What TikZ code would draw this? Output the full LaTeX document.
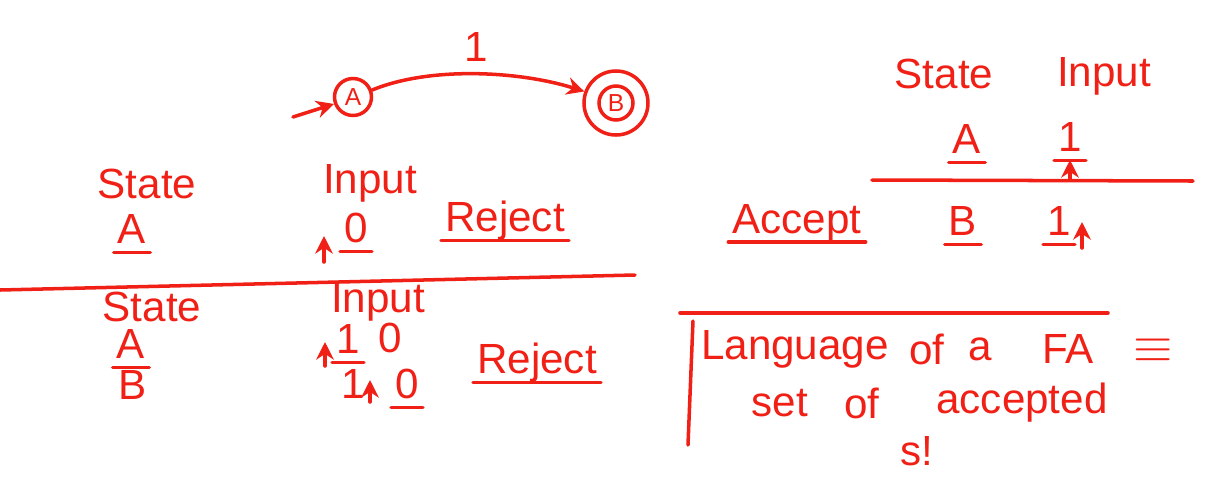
\documentclass[tikz,border=0pt]{standalone}
\usepackage{fontspec}
\setmainfont{Liberation Sans}
\usetikzlibrary{positioning,arrows.meta}
\definecolor{ink}{RGB}{240,32,22}

\begin{document}
\begin{tikzpicture}[x=1cm,y=1cm]
	
	\tikzset{hand/.style={draw=ink, line width=1pt, line cap=round},
		word/.style={text=ink, inner sep=1pt, font=\fontsize{12}{14}\selectfont},
		state node/.style={circle, draw=ink, line width=1pt, text=ink,
			minimum size=0.37cm, inner sep=0pt, font=\fontsize{7}{8}\selectfont},
		pointer/.style={hand, -{Stealth[length=5pt,width=5pt]}}
	}
	\newcommand{\under}[1]{\draw[hand] ([yshift=-2.5pt]#1.base west) -- ([yshift=-2.5pt]#1.base east);}
	\useasboundingbox (0,0) rectangle (12.17,4.81);
	
	% the automaton
	\node[state node] (A) at (3.53,3.84) {A};
	\node[state node, minimum size=0.34cm] (B) at (6.16,3.78) {B};
	\node[circle, draw=ink, line width=1pt, minimum size=0.64cm] (Bo) at (B) {};
	\coordinate (start) at (2.93,3.64);
	\draw[pointer] (start) -- (A.200);
	\draw[pointer] (A.20) .. controls (4.3,4.15) and (5.2,4.1) .. (Bo.160)
		node[word, pos=0.5, above=2pt] (one) {1};
	
	% first run, input 0
	\node[word] (st1) at (1.47,2.97) {State};
	\node[word] (in1) at (3.70,2.98) {Input};
	\node[word] (a1) at (1.32,2.52) {A};
	\node[word] (z1) at (3.56,2.53) {0};
	\node[word] (r1) at (5.05,2.60) {Reject};
	\coordinate (p1) at (3.24,2.19);
	\draw[pointer] (p1) -- ++(0,0.26);
	\under{a1} \under{z1} \under{r1}
	\coordinate (cutL) at (0,1.91);
	\coordinate (cutR) at (6.35,2.06);
	\draw[hand] (cutL) -- (cutR);
	
	% second run, input 10
	\node[word] (st2) at (1.52,1.74) {State};
	\node[word] (in2) at (3.78,1.79) {Input};
	\node[word] (a2) at (1.31,1.37) {A};
	\node[word] (b2) at (1.33,0.96) {B};
	\node[word] (o2) at (3.48,1.42) {1};
	\node[word] (z2) at (3.90,1.43) {0};
	\node[word] (o2b) at (3.53,0.97) {1};
	\node[word] (z2b) at (4.07,0.97) {0};
	\node[word] (r2) at (5.37,1.18) {Reject};
	\coordinate (p2) at (3.25,1.15);
	\coordinate (p3) at (3.70,0.79);
	\draw[pointer] (p2) -- ++(0,0.24);
	\draw[pointer] (p3) -- ++(0,0.22);
	\under{a2} \under{o2} \under{z2b} \under{r2}
	
	% third run, input 1
	\node[word] (st3) at (9.44,4.07) {State};
	\node[word] (in3) at (11.04,4.05) {Input};
	\node[word] (a3) at (9.67,3.42) {A};
	\node[word] (o3) at (10.70,3.44) {1};
	\coordinate (p4) at (10.70,3.01);
	\draw[pointer] (p4) -- ++(0,0.2);
	\under{a3} \under{o3}
	\coordinate (cut2L) at (8.72,3.01);
	\coordinate (cut2R) at (11.93,3.00);
	\draw[hand] (cut2L) -- (cut2R);
	\node[word] (acc) at (7.97,2.58) {Accept};
	\node[word] (b3) at (9.63,2.60) {B};
	\node[word] (o4) at (10.59,2.60) {1};
	\coordinate (p5) at (10.82,2.33);
	\draw[pointer] (p5) -- ++(0,0.26);
	\under{acc} \under{b3} \under{o4}
	
	% definition box
	\coordinate (boxTL) at (6.80,1.68);
	\coordinate (boxTR) at (11.08,1.68);
	\coordinate (boxVT) at (6.93,1.60);
	\coordinate (boxVB) at (6.88,0.36);
	\draw[hand] (boxTL) -- (boxTR);
	\draw[hand] (boxVT) -- (boxVB);
	\node[word] (lang) at (7.95,1.32) {Language};
	\node[word] (of1) at (9.27,1.32) {of};
	\node[word] (art) at (9.80,1.32) {a};
	\node[word] (fa) at (10.68,1.32) {FA};
	\node[word, font=\fontsize{14}{16}\selectfont] (eqv) at (11.53,1.30) {$\equiv$};
	\node[word] (set) at (7.80,0.78) {set};
	\node[word] (of2) at (8.62,0.78) {of};
	\node[word] (accd) at (10.22,0.78) {accepted};
	\node[word] (ss) at (9.17,0.30) {s!};
	
\end{tikzpicture}
\end{document}
